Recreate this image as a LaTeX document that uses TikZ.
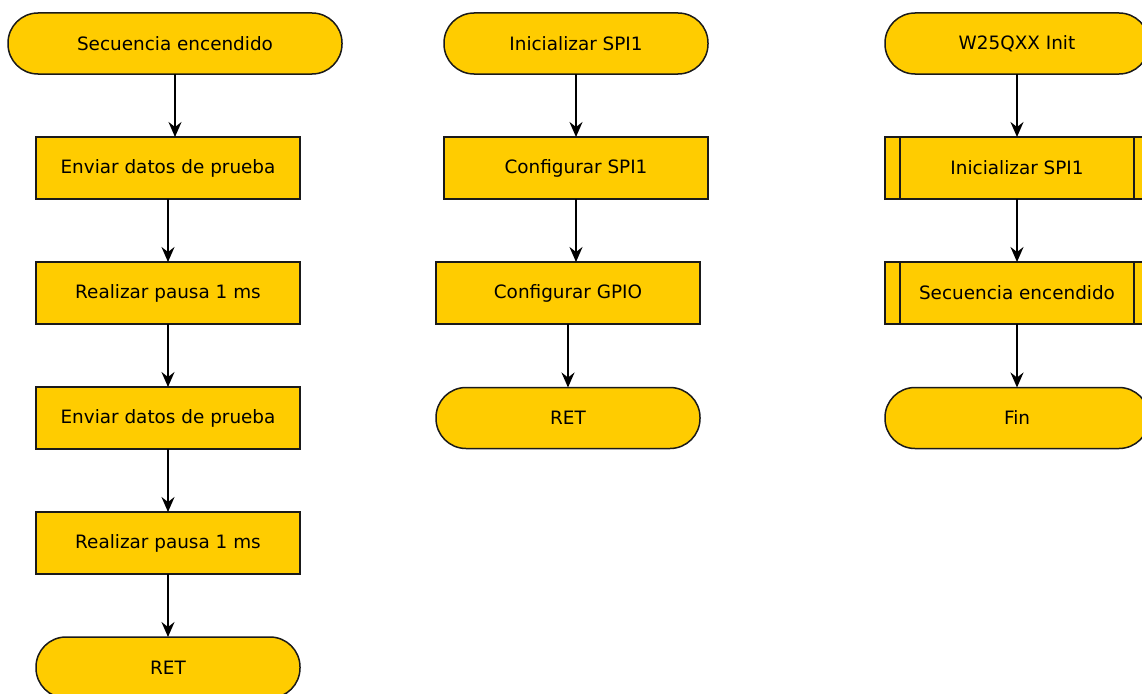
\documentclass[tikz,border=0pt]{standalone}
\usepackage{fontspec}
\setmainfont{DejaVu Sans}
\usetikzlibrary{arrows.meta}
\definecolor{boxfill}{HTML}{FFCC00}
\definecolor{boxline}{HTML}{1A1A1A}
\tikzset{
  base/.style={draw=boxline, fill=boxfill, line width=1.5pt, inner sep=0pt, outer sep=0pt,
    font=\fontsize{18.4}{22}\selectfont, text=black},
  terminal/.style={base, rounded corners=30pt, minimum height=61pt},
  process/.style={base, minimum height=62pt},
  subproc/.style={process, path picture={
    \draw[boxline, line width=1.5pt]
      ([xshift=15pt]path picture bounding box.north west) -- ([xshift=15pt]path picture bounding box.south west)
      ([xshift=-15pt]path picture bounding box.north east) -- ([xshift=-15pt]path picture bounding box.south east);}},
  flow/.style={draw=black, line width=1.7pt, -{Stealth[length=15pt, width=13pt, inset=5pt]}}
}
\begin{document}
\begin{tikzpicture}[x=1pt, y=-1pt]
\useasboundingbox (0,0) rectangle (1142,693);
\clip (0,0) rectangle (1142,693);

% --- Secuencia encendido ---
\node[terminal, minimum width=334pt] (s1) at (175,43.5) {Secuencia encendido};
\node[process, minimum width=264pt] (s2) at (168,168) {Enviar datos de prueba};
\node[process, minimum width=264pt] (s3) at (168,293) {Realizar pausa 1 ms};
\node[process, minimum width=264pt] (s4) at (168,418) {Enviar datos de prueba};
\node[process, minimum width=264pt] (s5) at (168,543) {Realizar pausa 1 ms};
\node[terminal, minimum width=264pt] (s6) at (168,667.5) {RET};

\draw[flow] (s1.south) -- (s1.south |- s2.north);
\draw[flow] (s2) -- (s3);
\draw[flow] (s3) -- (s4);
\draw[flow] (s4) -- (s5);
\draw[flow] (s5) -- (s6);

% --- Inicializar SPI1 ---
\node[terminal, minimum width=264pt] (i1) at (576,43.5) {Inicializar SPI1};
\node[process, minimum width=264pt] (i2) at (576,168) {Configurar SPI1};
\node[process, minimum width=264pt] (i3) at (568,293) {Configurar GPIO};
\node[terminal, minimum width=264pt] (i4) at (568,418) {RET};

\draw[flow] (i1) -- (i2);
\draw[flow] (i2.south) -- (i2.south |- i3.north);
\draw[flow] (i3) -- (i4);

% --- W25QXX Init ---
\node[terminal, minimum width=264pt] (w1) at (1017,43.5) {W25QXX Init};
\node[subproc, minimum width=264pt] (w2) at (1017,168) {Inicializar SPI1};
\node[subproc, minimum width=264pt] (w3) at (1017,293) {Secuencia encendido};
\node[terminal, minimum width=264pt] (w4) at (1017,418) {Fin};

\draw[flow] (w1) -- (w2);
\draw[flow] (w2) -- (w3);
\draw[flow] (w3) -- (w4);
\end{tikzpicture}
\end{document}
